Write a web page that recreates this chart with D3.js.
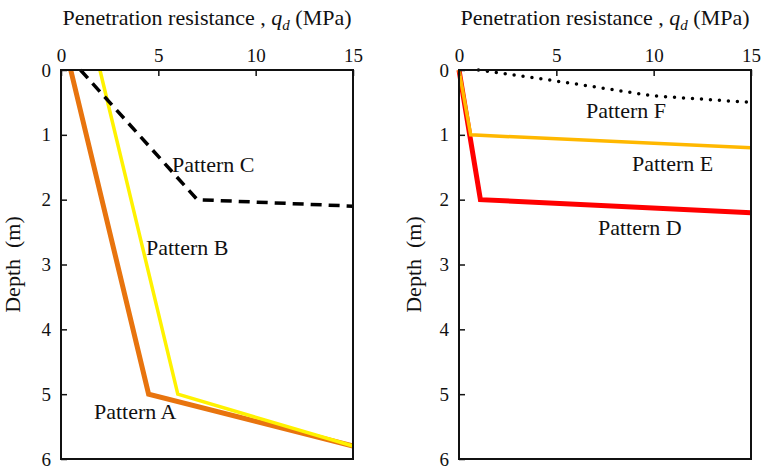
<!DOCTYPE html>
<html>
<head>
<meta charset="utf-8">
<script src="https://cdn.jsdelivr.net/npm/d3@7"></script>
<style>
  body { margin: 0; background: #fff; }
  svg text { font-family: "Liberation Serif", "DejaVu Serif", serif; fill: #111; }
</style>
</head>
<body>
<div id="chart"></div>
<script>
// values: [q_d (MPa), depth (m)]
var patternA = [[0.5, 0], [4.5, 5], [15, 5.8]];
var patternB = [[2, 0], [6, 5], [15, 5.8]];
var patternC = [[1, 0], [7, 2], [15, 2.1]];
var patternD = [[0, 0], [1.1, 2], [15, 2.2]];
var patternE = [[0, 0], [0.6, 1], [15, 1.2]];
var patternF = [[1, 0], [5, 0.17], [10, 0.4], [15, 0.5]];
var xTicks = [0, 5, 10, 15];
var yTicks = [0, 1, 2, 3, 4, 5, 6];

var W = 762, H = 468;
var svg = d3.select("#chart").append("svg")
    .attr("width", W)
    .attr("height", H);

var panels = [
    {left: 61, right: 353, ylab: 41, series: [
        {data: patternA, color: "#E8740E", width: 5},
        {data: patternB, color: "#FFF200", width: 3.5},
        {data: patternC, color: "#000", width: 3.5, dash: "11,7"}
    ], labels: [
        {text: "Pattern C", x: 172, y: 172},
        {text: "Pattern B", x: 146, y: 255},
        {text: "Pattern A", x: 94, y: 419}
    ]},
    {left: 459, right: 751, ylab: 38, series: [
        {data: patternD, color: "#FF0000", width: 5},
        {data: patternE, color: "#FFB800", width: 3.5},
        {data: patternF, color: "#000", width: 3.5, dash: "0,9", cap: "round"}
    ], labels: [
        {text: "Pattern F", x: 586, y: 118},
        {text: "Pattern E", x: 632, y: 171},
        {text: "Pattern D", x: 598, y: 235}
    ]}
];

var plotTop = 70, plotBottom = 459;

panels.forEach(function (p) {
    var x = d3.scaleLinear().domain([0, 15]).range([p.left, p.right]);
    var y = d3.scaleLinear().domain([0, 6]).range([plotTop, plotBottom]);
    var g = svg.append("g");

    var line = d3.line()
        .x(function (d) { return x(d[0]); })
        .y(function (d) { return y(d[1]); });

    p.series.forEach(function (s) {
        g.append("path")
            .attr("d", line(s.data))
            .attr("fill", "none")
            .attr("stroke", s.color)
            .attr("stroke-width", s.width)
            .attr("stroke-linejoin", "miter")
            .attr("stroke-linecap", s.cap || "butt")
            .attr("stroke-dasharray", s.dash || null);
    });

    // frame
    g.append("rect")
        .attr("x", p.left).attr("y", plotTop)
        .attr("width", p.right - p.left).attr("height", plotBottom - plotTop)
        .attr("fill", "none").attr("stroke", "#111").attr("stroke-width", 2);

    // top axis, ticks pointing inward
    var xAxis = g.append("g")
        .attr("transform", "translate(0," + plotTop + ")")
        .call(d3.axisTop(x).tickValues(xTicks).tickSize(-6).tickPadding(8).tickFormat(d3.format("d")));
    xAxis.select(".domain").remove();
    xAxis.selectAll("line").attr("stroke", "#111").attr("stroke-width", 1.5);
    xAxis.selectAll("text").style("font-size", "19px").attr("fill", "#111");

    var yAxis = g.append("g")
        .attr("transform", "translate(" + p.left + ",0)")
        .call(d3.axisLeft(y).tickValues(yTicks).tickSize(-6).tickPadding(10).tickFormat(d3.format("d")));
    yAxis.select(".domain").remove();
    yAxis.selectAll("line").attr("stroke", "#111").attr("stroke-width", 1.5);
    yAxis.selectAll("text").style("font-size", "19px").attr("fill", "#111");

    // title
    var title = g.append("text")
        .attr("x", (p.left + p.right) / 2)
        .attr("y", 25)
        .attr("text-anchor", "middle")
        .style("font-size", "22px");
    title.append("tspan").text("Penetration resistance , ");
    title.append("tspan").style("font-style", "italic").text("q");
    title.append("tspan").style("font-style", "italic").style("font-size", "15px").attr("dy", 5).text("d");
    title.append("tspan").attr("dy", -5).text(" (MPa)");

    // y label
    g.append("text")
        .attr("transform", "translate(" + (p.left - p.ylab) + "," + ((plotTop + plotBottom) / 2) + ") rotate(-90)")
        .attr("text-anchor", "middle")
        .style("font-size", "22px")
        .text("Depth\u00a0 (m)");

    p.labels.forEach(function (l) {
        g.append("text")
            .attr("x", l.x).attr("y", l.y)
            .style("font-size", "22px")
            .text(l.text);
    });
});
</script>
</body>
</html>
